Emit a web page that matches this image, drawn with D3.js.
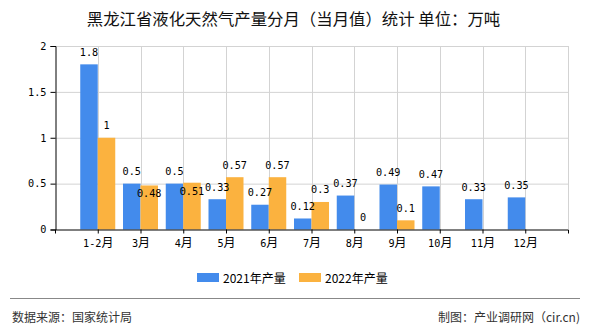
<!DOCTYPE html>
<html><head><meta charset="utf-8">
<script src="https://cdn.jsdelivr.net/npm/d3@7"></script>
<style>
body{margin:0;background:#fff;}
svg{display:block;}
</style></head>
<body>
<svg id="c" width="590" height="330"></svg>
<script>
const categories = ["1-2月","3月","4月","5月","6月","7月","8月","9月","10月","11月","12月"];
const series2021 = [1.8,0.5,0.5,0.33,0.27,0.12,0.37,0.49,0.47,0.33,0.35];
const series2022 = [1,0.48,0.51,0.57,0.57,0.3,0,0.1,null,null,null];
const seriesNames = ["2021年产量","2022年产量"];
const yTicks = [0,0.5,1,1.5,2];
const titleText = "黑龙江省液化天然气产量分月（当月值）统计 单位：万吨";
const sourceText = "数据来源：国家统计局";
const creditText = "制图：产业调研网（cir.cn)";

const colors = ["#438bec","#fbb23f"];
const numFont = "'DejaVu Sans Mono', monospace";
const cjkFont = "'Noto Sans CJK SC', sans-serif";
const numSize = "10.2px";

const svg = d3.select("#c");
const L = 55, R = 568, T = 46, B = 229.5;

const x = d3.scalePoint().domain(categories).range([L, R]).padding(1);
const y = d3.scaleLinear().domain([0, 2]).range([B, T]);
const barW = 17.5;

// title
svg.append("text").attr("x", 293.5).attr("y", 17.5)
  .attr("text-anchor","middle").attr("dominant-baseline","central")
  .style("font-family", cjkFont).style("font-size","16.4px").style("fill","#111")
  .text(titleText);

// grid
const g = svg.append("g");
g.selectAll("line.hg").data(yTicks.filter(d => d > 0)).join("line")
  .attr("x1", L).attr("x2", R).attr("y1", d => y(d) + 0.5).attr("y2", d => y(d) + 0.5)
  .attr("stroke", "#d3d3d3").attr("stroke-width", 1);
g.selectAll("line.vg").data(categories.map(c => x(c)).concat([R])).join("line")
  .attr("x1", d => Math.round(d) + 0.5).attr("x2", d => Math.round(d) + 0.5)
  .attr("y1", T).attr("y2", B)
  .attr("stroke", "#d3d3d3").attr("stroke-width", 1);

// bars
const bars = svg.append("g");
[series2021, series2022].forEach((s, si) => {
  bars.selectAll("rect.s" + si).data(s.map((v, i) => ({v, c: categories[i]})).filter(d => d.v != null && d.v > 0))
    .join("rect")
    .attr("x", d => x(d.c) - barW + si * barW)
    .attr("width", barW)
    .attr("y", d => y(d.v))
    .attr("height", d => B - y(d.v))
    .attr("fill", colors[si]);
});

// axes
const yAxis = d3.axisLeft(y).tickValues(yTicks).tickSize(5).tickPadding(4).tickFormat(d3.format("~g"));
const ya = svg.append("g").attr("transform", `translate(${L + 0.5},0)`).call(yAxis);
ya.select(".domain").attr("stroke", "#000");
ya.selectAll(".tick line").attr("stroke", "#000");
ya.selectAll("text").style("font-family", numFont).style("font-size", numSize).style("fill", "#000");

const xAxis = d3.axisBottom(x).tickSize(4).tickPadding(3).tickSizeOuter(4);
const xa = svg.append("g").attr("transform", `translate(0,${B})`).call(xAxis);
xa.select(".domain").attr("stroke", "#000");
xa.selectAll(".tick line").attr("stroke", "#000");
xa.selectAll(".tick text").each(function(d) {
  const t = d3.select(this);
  t.text(null).style("fill", "#000").attr("dy", "1.05em");
  const num = d.replace("月", "");
  t.append("tspan").style("font-family", numFont).style("font-size", numSize).text(num);
  t.append("tspan").style("font-family", cjkFont).style("font-size", "12px").text("月");
});

// value labels with simple overlap avoidance
const placed = [];
const lab = svg.append("g");
function overlaps(a, b) {
  const m = 1.5;
  return a.x + m < b.x + b.width && b.x + m < a.x + a.width && a.y < b.y + b.height && b.y < a.y + a.height;
}
[series2021, series2022].forEach((s, si) => {
  s.forEach((v, i) => {
    if (v == null) return;
    const cx = x(categories[i]) - barW / 2 + si * barW;
    let by = y(v) - 8.5;
    const t = lab.append("text").attr("x", cx).attr("y", by)
      .attr("text-anchor", "middle")
      .style("font-family", numFont).style("font-size", numSize).style("fill", "#000")
      .text(d3.format("~g")(v));
    let bb = t.node().getBBox();
    let tries = 0;
    while (placed.some(p => overlaps(p, bb)) && tries < 5) {
      by += 20.5;
      t.attr("y", by);
      bb = t.node().getBBox();
      tries++;
    }
    placed.push(bb);
  });
});

// legend
const lg = svg.append("g");
const legendX = [197, 299];
seriesNames.forEach((n, i) => {
  lg.append("rect").attr("x", legendX[i]).attr("y", 273).attr("width", 22).attr("height", 9).attr("fill", colors[i]);
  lg.append("text").attr("x", legendX[i] + 26).attr("y", 277.5).attr("dominant-baseline", "central")
    .style("font-family", cjkFont).style("font-size", "12px").style("fill", "#000").text(n);
});

// footer
svg.append("line").attr("x1", 10).attr("x2", 580).attr("y1", 298.5).attr("y2", 298.5)
  .attr("stroke", "#888").attr("stroke-width", 1);
svg.append("text").attr("x", 12).attr("y", 316).attr("dominant-baseline", "central")
  .style("font-family", cjkFont).style("font-size", "12px").style("fill", "#333").text(sourceText);
svg.append("text").attr("x", 580).attr("y", 316).attr("dominant-baseline", "central")
  .attr("text-anchor", "end")
  .style("font-family", cjkFont).style("font-size", "12px").style("fill", "#333").text(creditText);
</script>
</body></html>
